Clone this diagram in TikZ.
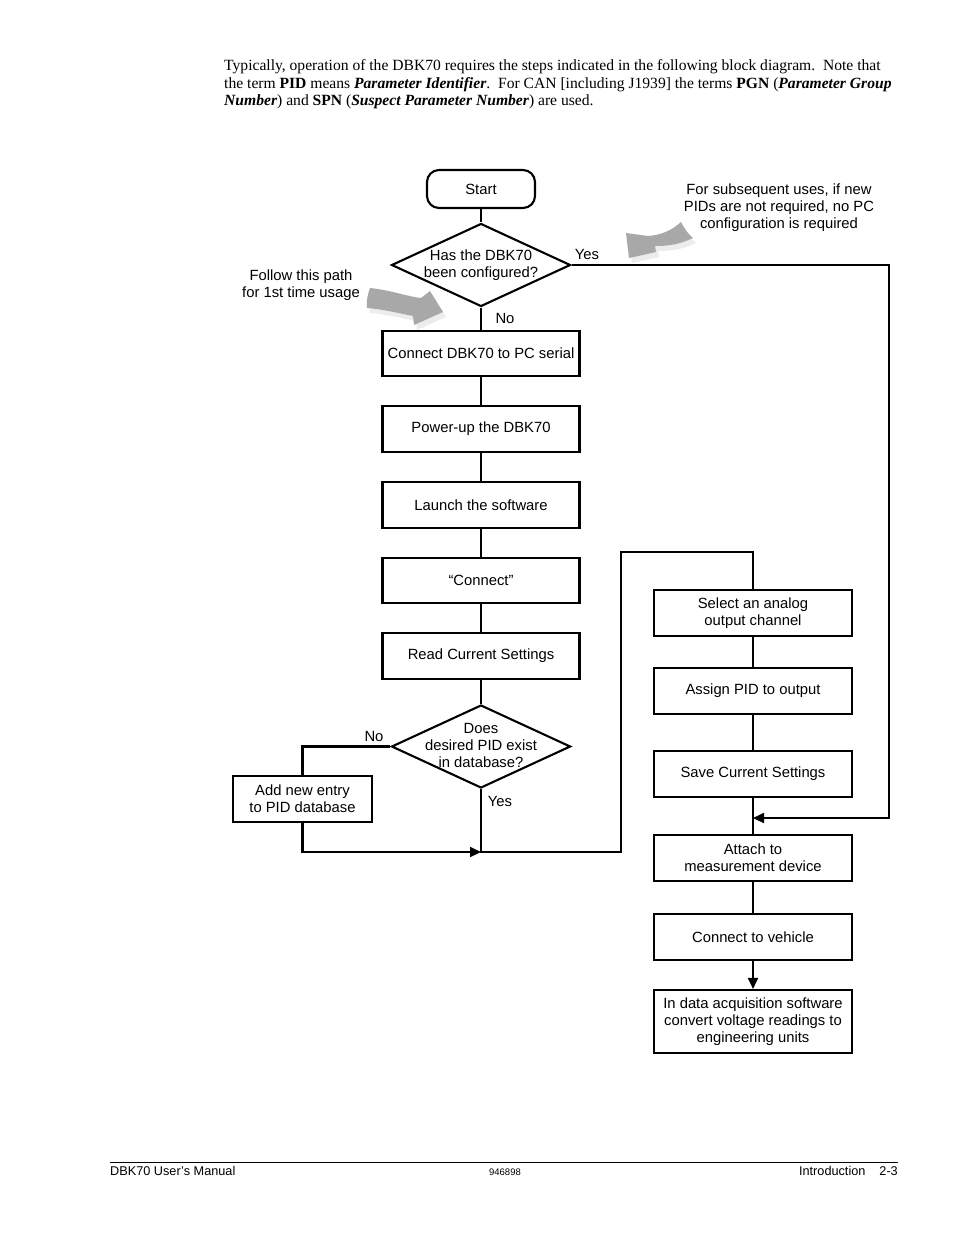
\documentclass[tikz,border=0pt]{standalone}
\usepackage{fontspec}
\setmainfont{Liberation Serif}
\newfontfamily\arialf{Liberation Sans}
\usetikzlibrary{shapes.geometric,arrows.meta}
\definecolor{arrowgray}{RGB}{168,168,168}
\definecolor{shadowgray}{RGB}{236,236,236}
\newcommand\dfont{\arialf\fontsize{14.8}{17}\selectfont}
\newcommand\bfont{\fontsize{15.6}{17.5}\selectfont}
\newcommand\ffont{\arialf\fontsize{12.7}{15}\selectfont}
\begin{document}
\begin{tikzpicture}[x=1pt,y=-1pt,
  box/.style={draw, line width=2.1pt, minimum width=198pt, minimum height=46pt, inner sep=0pt, align=center, font=\dfont},
  startbox/.style={draw, line width=2.1pt, rounded corners=12pt, minimum width=108pt, minimum height=38pt, inner sep=0pt, font=\dfont},
  decision/.style={draw, diamond, line width=2.1pt, minimum width=179pt, minimum height=83pt, inner sep=0pt},
  dtext/.style={align=center, font=\dfont, inner sep=0pt},
  lbl/.style={font=\dfont, inner sep=0pt},
  conn/.style={line width=2.1pt},
  arr/.style={line width=2.1pt, -{Triangle[length=11pt,width=10pt]}},
  note/.style={align=center, font=\dfont, inner sep=0pt},
  body/.style={anchor=base west, font=\bfont, inner sep=0pt}
]
\useasboundingbox (0,0) rectangle (954,1235);
\fill[white] (0,0) rectangle (954,1235);

% intro text
\node[body] (t1) at (224,70) {Typically, operation of the DBK70 requires the steps indicated in the following block diagram.\ \ Note that};
\node[body] (t2) at (224,88) {the term \textbf{PID} means \textbf{\textit{Parameter Identifier}}.\ \ For CAN [including J1939] the terms \textbf{PGN} (\textbf{\textit{Parameter Group}}};
\node[body] (t3) at (224,105) {\textbf{\textit{Number}}) and \textbf{SPN} (\textbf{\textit{Suspect Parameter Number}}) are used.};

% grey arrows (with faint shadows)
\fill[shadowgray] (373,293) .. controls (393,295) and (408,301) .. (424,303) -- (433,296) -- (446,317) -- (417,330) -- (416,321) .. controls (401,318) and (385,314) .. (370,313) .. controls (369,305) and (371,299) .. (373,293) -- cycle;
\fill[shadowgray] (684,227) .. controls (687,233) and (691,239) .. (696,243) .. controls (683,249) and (673,251) .. (658,251) -- (659,257) -- (632,263) -- (629,238) -- (651,241) .. controls (665,240) and (675,235) .. (684,227) -- cycle;
\fill[arrowgray] (370,288) .. controls (390,290) and (405,296) .. (421,298) -- (430,291) -- (443,312) -- (414,325) -- (413,316) .. controls (398,313) and (382,309) .. (367,308) .. controls (366,300) and (368,294) .. (370,288) -- cycle;
\fill[arrowgray] (681,222) .. controls (684,228) and (688,234) .. (693,238) .. controls (680,244) and (670,246) .. (655,246) -- (656,252) -- (629,258) -- (626,233) -- (648,236) .. controls (662,235) and (672,230) .. (681,222) -- cycle;

% main column
\node[startbox] (start) at (481,189) {Start};
\node[decision] (d1) at (481,265) {};
\node[dtext] (d1t) at (481,265.5) {Has the DBK70\\been configured?};
\node[box, minimum width=197pt, minimum height=45pt] (b1) at (481,353.5) {Connect DBK70 to PC serial};
\node[box, minimum width=197pt] (b2) at (481,429) {Power-up the DBK70};
\node[box, minimum width=197pt] (b3) at (481,505) {Launch the software};
\node[box, minimum width=197pt, minimum height=45pt] (b4) at (481,580.5) {“Connect”};
\node[box, minimum width=197pt] (b5) at (481,656) {Read Current Settings};
\node[decision] (d2) at (481,746.5) {};
\node[dtext] (d2t) at (481,745.5) {Does\\desired PID exist\\in database?};
\node[box, minimum width=139pt] (add) at (302.5,799) {Add new entry\\to PID database};

% right column
\node[box] (sel) at (753,613) {Select an analog\\output channel};
\node[box] (asg) at (753,691) {Assign PID to output};
\node[box] (sav) at (753,774) {Save Current Settings};
\node[box] (att) at (753,858) {Attach to\\measurement device};
\node[box] (veh) at (753,937) {Connect to vehicle};
\node[box, minimum height=63pt] (dat) at (753,1021.5) {In data acquisition software\\convert voltage readings to\\engineering units};

% junction coordinates
\coordinate (j1) at (481,852);
\coordinate (j2) at (753,818);
\coordinate (rt) at (889,818);
\coordinate (c1) at (621,852);
\coordinate (c2) at (621,552);

% connectors
\draw[conn] (start) -- (d1);
\draw[conn] (d1) -- (b1);
\draw[conn] (b1) -- (b2);
\draw[conn] (b2) -- (b3);
\draw[conn] (b3) -- (b4);
\draw[conn] (b4) -- (b5);
\draw[conn] (b5) -- (d2);
\draw[arr] (d1.east) -| (rt) -- (j2);
\draw[conn] (d2.west) -| (add.north);
\draw[arr] (add.south) |- (j1);
\draw[conn] (d2.south) -- (j1) -- (c1) -- (c2) -| (sel.north);
\draw[conn] (sel) -- (asg);
\draw[conn] (asg) -- (sav);
\draw[conn] (sav) -- (att);
\draw[conn] (att) -- (veh);
\draw[arr] (veh) -- (dat);

% labels
\node[lbl] (yes1) at (587,254) {Yes};
\node[lbl] (no1) at (505,318) {No};
\node[lbl] (no2) at (374,736) {No};
\node[lbl] (yes2) at (500,801) {Yes};

% notes
\node[note] (n1) at (301,285.5) {Follow this path\\for 1st time usage};
\node[note] (n2) at (779,208) {For subsequent uses, if new\\PIDs are not required, no PC\\configuration is required};

% footer
\draw[line width=1pt] (110,1162) -- (898,1162);
\node[anchor=base west, font=\ffont, inner sep=0pt] (f1) at (110,1175) {DBK70 User’s Manual};
\node[anchor=base, font=\arialf\fontsize{9.5}{11}\selectfont, inner sep=0pt] (f2) at (505,1175) {946898};
\node[anchor=base east, font=\ffont, inner sep=0pt] (f3) at (898,1175) {Introduction\hspace{14pt}2-3};
\end{tikzpicture}
\end{document}
